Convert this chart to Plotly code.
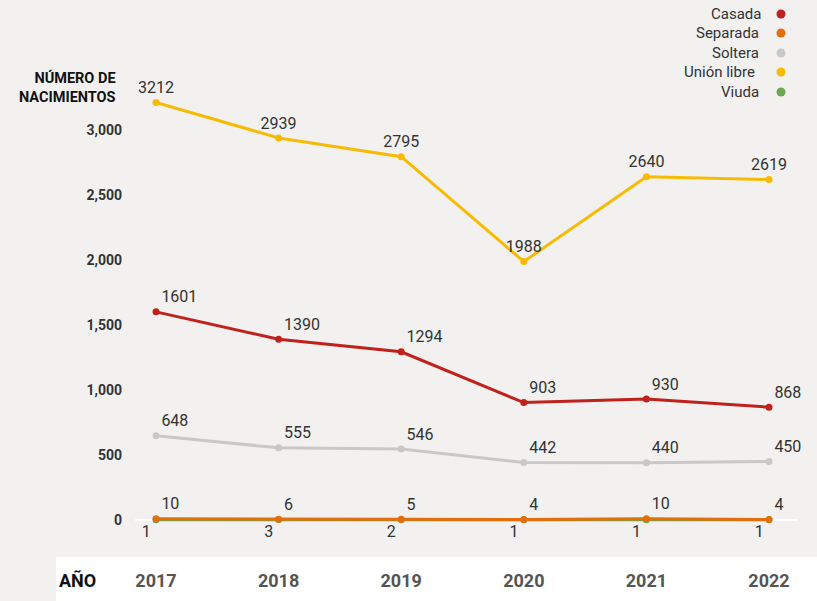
import plotly.graph_objects as go

years = [2017, 2018, 2019, 2020, 2021, 2022]
union_libre = [3212, 2939, 2795, 1988, 2640, 2619]
casada = [1601, 1390, 1294, 903, 930, 868]
soltera = [648, 555, 546, 442, 440, 450]
separada = [10, 6, 5, 4, 10, 4]
viuda = [1, 3, 2, 1, 1, 1]

legend_names = ["Casada", "Separada", "Soltera", "Unión libre", "Viuda"]
colors = {"Casada": "#c0211d", "Separada": "#e46d0c", "Soltera": "#c9c8c6",
          "Unión libre": "#f8bb05", "Viuda": "#6aa84f"}

W, H = 817, 601
L, R, T, B = 135, 19, 0, 44
pw, ph = W - L - R, H - T - B

FONT = "Roboto"
fig = go.Figure()

def add(name, vals, pos):
    fig.add_trace(go.Scatter(
        x=years, y=vals, name=name, mode="lines+markers+text",
        line=dict(color=colors[name], width=3),
        marker=dict(color=colors[name], size=7),
        text=[str(v) for v in vals], textposition=pos,
        textfont=dict(family=FONT, size=16, color="#333333"),
        showlegend=False, cliponaxis=False))

add("Viuda", viuda, "bottom left")
add("Soltera", soltera, "top right")
add("Casada", casada, "top right")
add("Unión libre", union_libre, "top center")
add("Separada", separada, "top right")

shapes = [dict(type="rect", xref="paper", yref="paper",
               x0=(56 - L) / pw, x1=(W - L) / pw + 0.01,
               y0=-B / ph - 0.01, y1=0, fillcolor="white",
               line=dict(width=0), layer="below")]
annotations = []
rows_y = [14, 33, 53, 72, 92]
text_right = [763, 761, 761, 757, 761]
for name, yy, xr in zip(legend_names, rows_y, text_right):
    annotations.append(dict(xref="paper", yref="paper", x=(xr - L) / pw,
                            y=(H - B - yy) / ph, xanchor="right", yanchor="middle",
                            text=name, showarrow=False,
                            font=dict(family=FONT, size=15, color="#333333")))
    shapes.append(dict(type="circle", xref="paper", yref="paper",
                       xsizemode="pixel", ysizemode="pixel",
                       xanchor=(781 - L) / pw, yanchor=(H - B - yy) / ph,
                       x0=-4.5, x1=4.5, y0=-4.5, y1=4.5,
                       fillcolor=colors[name], line=dict(width=0)))

annotations.append(dict(xref="paper", yref="paper", x=(118 - L) / pw,
                        y=(H - B - 88) / ph, xanchor="right", yanchor="middle",
                        align="right", text="<b>NÚMERO DE<br>NACIMIENTOS</b>",
                        showarrow=False,
                        font=dict(family=FONT, size=14.5, color="#111111")))
annotations.append(dict(xref="paper", yref="paper", x=(57 - L) / pw,
                        y=(H - B - 580) / ph, xanchor="left", yanchor="middle",
                        text="<b>AÑO</b>", showarrow=False,
                        font=dict(family=FONT, size=18, color="#111111")))

x0 = 2017 - 21 / 122.6
x1 = 2022 + 29 / 122.6
y_per_px = 3000 / 390
y0 = -(557 - 520) * y_per_px
y1 = 520 * y_per_px

fig.update_layout(
    width=W, height=H,
    margin=dict(l=L, r=R, t=T, b=B),
    paper_bgcolor="#f2f1ef", plot_bgcolor="#f2f1ef",
    font=dict(family=FONT),
    shapes=shapes, annotations=annotations,
    xaxis=dict(range=[x0, x1], tickvals=years, ticktext=[str(y) for y in years],
               showgrid=False, zeroline=False, showline=False, ticks="",
               ticklabelstandoff=11,
               tickfont=dict(family=FONT, size=18, color="#555555", weight="bold")),
    yaxis=dict(range=[y0, y1], tickvals=[0, 500, 1000, 1500, 2000, 2500, 3000],
               tickformat=",", showgrid=False, zeroline=True, zerolinecolor="white",
               zerolinewidth=2, showline=False, ticks="", ticklabelstandoff=12,
               tickfont=dict(family=FONT, size=14, color="#333333", weight="bold")),
)

fig.write_html("out.html", config={"displayModeBar": False},
               post_script="document.body.style.margin='0';")
